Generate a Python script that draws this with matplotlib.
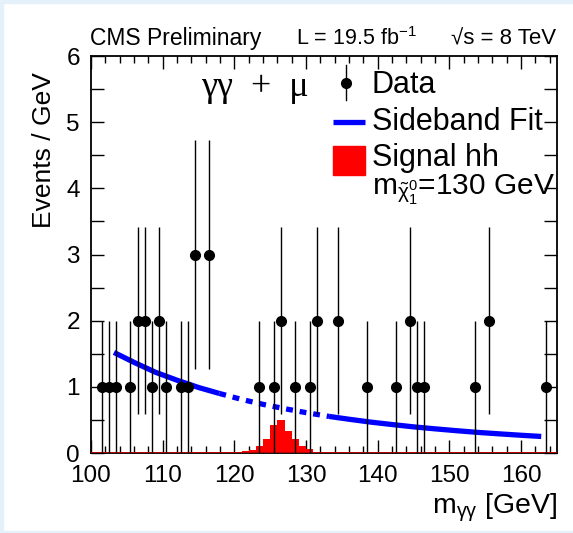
import numpy as np
import matplotlib
matplotlib.use("Agg")
import matplotlib.pyplot as plt
from matplotlib.patches import Rectangle
from matplotlib.ticker import MultipleLocator

plt.rcParams['font.family'] = ['Liberation Sans', 'DejaVu Sans']
plt.rcParams['mathtext.fontset'] = 'custom'
plt.rcParams['mathtext.rm'] = 'Liberation Sans'
plt.rcParams['mathtext.it'] = 'Liberation Sans:italic'
plt.rcParams['mathtext.default'] = 'regular'

# data points (1 GeV bins)
data_x = [101.5, 102.5, 103.5, 105.5, 106.5, 107.5, 108.5, 109.5, 110.5, 112.5,
          113.5, 114.5, 116.5, 123.5, 125.5, 126.5, 128.5, 130.5, 131.5, 134.5,
          138.5, 142.5, 144.5, 145.5, 146.5, 153.5, 155.5, 163.5]
data_n = [1, 1, 1, 1, 2, 2, 1, 2, 1, 1,
          1, 3, 3, 1, 1, 2, 1, 1, 2, 2,
          1, 1, 2, 1, 1, 1, 2, 1]

# sideband fit; dashed inside the signal window
fit_x = [103.2, 106, 109, 112, 115, 117.9, 121, 124, 127, 130, 133.2,
         136, 139, 142, 145, 148, 151, 154, 157, 160, 162.8]
fit_y = [1.52, 1.37, 1.22, 1.10, 0.99, 0.90, 0.81, 0.735, 0.67, 0.61, 0.553,
         0.51, 0.467, 0.43, 0.395, 0.365, 0.337, 0.311, 0.289, 0.268, 0.25]
window_lo, window_hi = 117.9, 133.2

# signal hh, mchi = 130 GeV
sig_edges = [120, 121, 122, 123, 124, 125, 126, 127, 128, 129, 130, 131, 132]
sig_vals = [0.015, 0.03, 0.045, 0.105, 0.21, 0.43, 0.50, 0.33, 0.21, 0.11, 0.06, 0.01]

W, H = 573, 533
fig = plt.figure(figsize=(W / 100, H / 100), dpi=100)
fig.patch.set_facecolor('white')

# light blue slide border
bcol = '#e4f1fb'
fig.patches.append(Rectangle((0, 0), 3 / W, 1, transform=fig.transFigure, color=bcol, zorder=0))
fig.patches.append(Rectangle((0, 1 - 3 / H), 1, 3 / H, transform=fig.transFigure, color=bcol, zorder=0))
fig.patches.append(Rectangle((0, 0), 1, 2 / H, transform=fig.transFigure, color=bcol, zorder=0))

L, R, T, B = 91, 557, 56, 453
ax = fig.add_axes([L / W, 1 - B / H, (R - L) / W, (B - T) / H])

# signal histogram
ax.stairs(sig_vals, sig_edges, fill=True, color='#ff0000', zorder=2)
ax.axhline(0, color='#cc0000', lw=2.0, zorder=3)

# fit
fx = np.array(fit_x)
fy = np.array(fit_y)
left = fx <= window_lo
mid = (fx >= window_lo) & (fx <= window_hi)
right = fx >= window_hi
ax.plot(fx[left], fy[left], color='#0000ff', lw=3.8, solid_capstyle='butt', zorder=4)
ax.plot(fx[mid], fy[mid], color='#0000ff', lw=3.8, ls=(0, (1.3, 1.3)),
        dash_capstyle='butt', zorder=4)
ax.plot(fx[right], fy[right], color='#0000ff', lw=3.8, solid_capstyle='butt', zorder=4)

# data with sqrt(N) errors
n = np.array(data_n, dtype=float)
ax.errorbar(data_x, n, yerr=np.sqrt(n), fmt='o', color='black', ms=7,
            elinewidth=1.0, capsize=0, zorder=5)

ax.set_xlim(100, 165)
ax.set_ylim(0, 6)
ax.xaxis.set_major_locator(MultipleLocator(10))
ax.xaxis.set_minor_locator(MultipleLocator(2))
ax.yaxis.set_major_locator(MultipleLocator(1))
ax.yaxis.set_minor_locator(MultipleLocator(0.5))
ax.tick_params(which='both', direction='in', top=True, right=True, width=1.0)
ax.tick_params(axis='x', which='major', length=9.5)
ax.tick_params(axis='x', which='minor', length=5)
ax.tick_params(axis='y', which='both', length=9.5)
ax.tick_params(axis='both', which='major', labelsize=17.5)
ax.tick_params(axis='x', which='major', pad=9)
ax.tick_params(axis='y', which='major', pad=8)
for s in ax.spines.values():
    s.set_linewidth(1.3)

fig.text(44 / W, 1 - 72 / H, 'Events / GeV', rotation=90, ha='center', va='top', fontsize=19)
fig.text(557 / W, 1 - 508 / H, r'm$_{\gamma\gamma}$ [GeV]', ha='right', va='center', fontsize=20.5)

fig.text(90 / W, 1 - 39 / H, 'CMS Preliminary', ha='left', va='center', fontsize=16.5)
fig.text(296 / W, 1 - 39 / H, r'L = 19.5 fb$^{-1}$', ha='left', va='center', fontsize=15.5)
fig.text(556 / W, 1 - 39 / H, '√s = 8 TeV', ha='right', va='center', fontsize=16)

fig.text(255 / W, 1 - 88 / H, 'γγ  +  μ', ha='center', va='center', fontsize=26,
         family=['Liberation Serif', 'DejaVu Serif'])

# legend
def axf(px, py):
    return (px - L) / (R - L), (B - py) / (B - T)

mx, my = axf(346, 83)
_, y0 = axf(346, 65)
_, y1 = axf(346, 100)
ax.plot([mx, mx], [y0, y1], color='black', lw=1.0, transform=ax.transAxes, clip_on=False)
ax.plot([mx], [my], 'o', color='black', ms=7, transform=ax.transAxes, clip_on=False)
tx, ty = axf(372, 85)
ax.text(tx, ty, 'Data', transform=ax.transAxes, ha='left', va='center', fontsize=22)

lx0, ly = axf(333, 122)
lx1, _ = axf(365, 122)
ax.plot([lx0, lx1], [ly, ly], color='#0000ff', lw=3.8, solid_capstyle='butt', transform=ax.transAxes)
ax.text(tx, ly, 'Sideband Fit', transform=ax.transAxes, ha='left', va='center', fontsize=22)

bx0, by0 = axf(333, 175)
bx1, by1 = axf(365, 146)
ax.add_patch(Rectangle((bx0, by0), bx1 - bx0, by1 - by0, transform=ax.transAxes,
                       color='#ff0000', zorder=4))
_, sy = axf(372, 158)
ax.text(tx, sy, 'Signal hh', transform=ax.transAxes, ha='left', va='center', fontsize=22)
_, my2 = axf(372, 190)
ax.text(tx, my2, r'm$_{\tilde{\chi}^0_1}$=130 GeV', transform=ax.transAxes,
        ha='left', va='center', fontsize=21.5)

fig.savefig('out.png', dpi=100)
